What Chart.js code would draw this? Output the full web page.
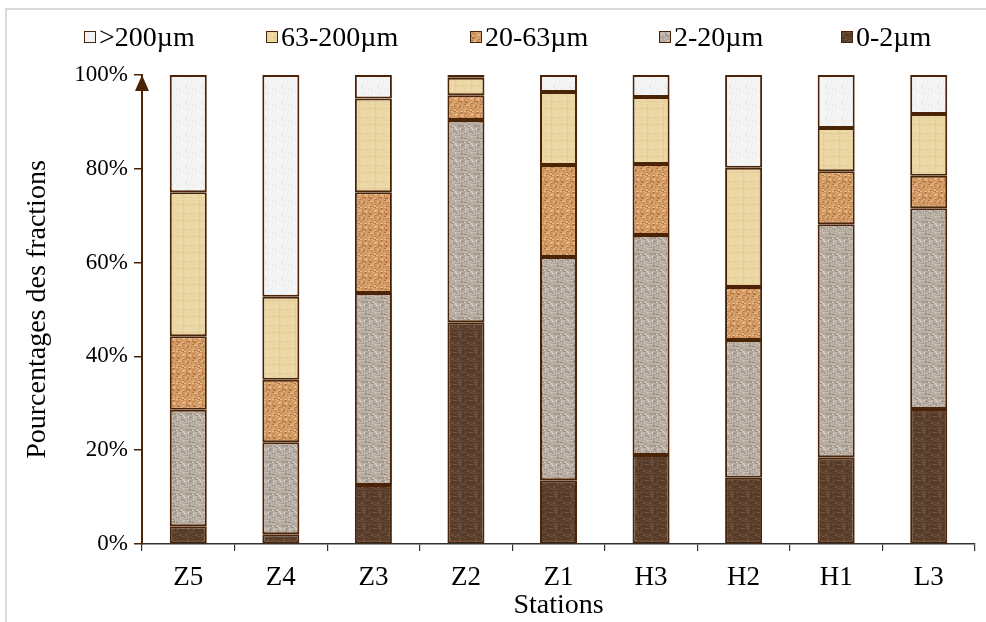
<!DOCTYPE html>
<html>
<head>
<meta charset="utf-8">
<script src="https://cdn.jsdelivr.net/npm/chart.js@4.4.1/dist/chart.umd.min.js"></script>
<style>
  html, body { margin: 0; padding: 0; background: #fff; }
  #wrap { position: relative; width: 986px; height: 622px; }
  #legend { position: absolute; left: 0; top: 0; width: 986px; height: 70px;
            font-family: "Liberation Serif", serif; font-size: 28px; color: #000; }
  .item { position: absolute; top: 22px; height: 30px; display: flex; align-items: center; white-space: nowrap; }
  .box { width: 10px; height: 10px; border: 1.5px solid #4b2408; margin-right: 3px; background-size: 16px 16px; }
</style>
</head>
<body>
<div id="wrap">
  <canvas id="grainChart" width="986" height="622"></canvas>
  <div id="legend"></div>
</div>
<script>
// stations (abscisse)
const stations = ['Z5', 'Z4', 'Z3', 'Z2', 'Z1', 'H3', 'H2', 'H1', 'L3'];

// pourcentages de chaque fraction
const frac0_2 = [3.8, 2.1, 12.6, 47.3, 13.6, 19.0, 14.1, 18.5, 28.8];
const frac2_20 = [24.8, 19.6, 40.9, 43.1, 47.6, 46.9, 29.4, 49.7, 42.8];
const frac20_63 = [15.7, 13.3, 21.5, 5.3, 19.6, 15.1, 11.3, 11.3, 6.9];
const frac63_200 = [30.7, 17.7, 20.0, 3.7, 15.6, 14.3, 25.4, 9.2, 13.2];
const frac200 = [25.0, 47.3, 5.0, 0.6, 3.6, 4.7, 19.8, 11.3, 8.3];

const yTicks = [0, 20, 40, 60, 80, 100];

// petites textures façon Excel
function lcg(seed) {
    let s = seed;
    return function () {
        s = (s * 1664525 + 1013904223) % 4294967296;
        return s / 4294967296;
    };
}

function makeTile(base, dark, light, amount, seed, lines) {
    const c = document.createElement('canvas');
    c.width = 16; c.height = 16;
    const g = c.getContext('2d');
    g.fillStyle = base;
    g.fillRect(0, 0, 16, 16);
    const rnd = lcg(seed);
    for (let i = 0; i < amount; i++) {
        const x = Math.floor(rnd() * 16), y = Math.floor(rnd() * 16);
        g.fillStyle = rnd() < 0.5 ? dark : light;
        g.fillRect(x, y, rnd() < 0.5 ? 1 : 2, 1);
    }
    if (lines) {
        g.fillStyle = lines;
        g.fillRect(0, 5, 16, 1);
        g.fillRect(0, 12, 16, 1);
        g.fillRect(7, 0, 1, 16);
    }
    return c;
}

const tiles = {
    f200: makeTile('#f3f3f3', '#e6e6e6', '#fbfbfb', 30, 11),
    f63: makeTile('#ecd8a4', '#e4cd96', '#f1e1b4', 16, 23, 'rgba(205,180,125,0.25)'),
    f20: makeTile('#d39a63', '#b07445', '#e8bb8a', 70, 37),
    f2: makeTile('#b7ada3', '#978b80', '#d3cbc3', 70, 51),
    f0: makeTile('#5d412f', '#4a3222', '#735440', 60, 71)
};

const pctx = document.getElementById('grainChart').getContext('2d');
const pat = {};
for (const k in tiles) pat[k] = pctx.createPattern(tiles[k], 'repeat');

const edge = '#4b2408';

const seriesList = [
    { label: '0-2µm', data: frac0_2, fill: pat.f0, tile: tiles.f0 },
    { label: '2-20µm', data: frac2_20, fill: pat.f2, tile: tiles.f2 },
    { label: '20-63µm', data: frac20_63, fill: pat.f20, tile: tiles.f20 },
    { label: '63-200µm', data: frac63_200, fill: pat.f63, tile: tiles.f63 },
    { label: '>200µm', data: frac200, fill: pat.f200, tile: tiles.f200 }
];

// légende html (ordre inverse)
const legendBox = document.getElementById('legend');
const legendLeft = [84, 266, 470, 659, 841];
seriesList.slice().reverse().forEach(function (s, i) {
    const item = document.createElement('div');
    item.className = 'item';
    item.style.left = legendLeft[i] + 'px';
    const b = document.createElement('span');
    b.className = 'box';
    b.style.backgroundImage = 'url(' + s.tile.toDataURL() + ')';
    const t = document.createElement('span');
    t.textContent = s.label;
    item.appendChild(b);
    item.appendChild(t);
    legendBox.appendChild(item);
});

const framePlugin = {
    id: 'frame',
    beforeDraw(chart) {
        const c = chart.ctx;
        c.save();
        c.fillStyle = '#fff';
        c.fillRect(0, 0, chart.width, chart.height);
        c.strokeStyle = '#d9d9d9';
        c.lineWidth = 2;
        c.strokeRect(6, 9, 990, 620);
        c.restore();
    },
    afterDraw(chart) {
        const a = chart.chartArea;
        const c = chart.ctx;
        c.save();
        c.fillStyle = edge;
        c.beginPath();
        c.moveTo(a.left, a.top);
        c.lineTo(a.left - 7, a.top + 16);
        c.lineTo(a.left + 7, a.top + 16);
        c.closePath();
        c.fill();
        c.restore();
    }
};

const serif = 'Liberation Serif';

new Chart(pctx, {
    type: 'bar',
    data: {
        labels: stations,
        datasets: seriesList.map(function (s) {
            return {
                label: s.label,
                data: s.data,
                backgroundColor: s.fill,
                borderColor: edge,
                borderWidth: 2,
                borderSkipped: false,
                categoryPercentage: 1,
                barPercentage: 0.4
            };
        })
    },
    options: {
        responsive: false,
        animation: false,
        layout: { padding: { top: 75, right: 11, left: 0, bottom: 0 } },
        plugins: {
            legend: { display: false },
            tooltip: { enabled: false }
        },
        scales: {
            x: {
                stacked: true,
                grid: { display: true, drawOnChartArea: false, offset: true, tickLength: 7, color: '#333', lineWidth: 1.2 },
                border: { color: '#333', width: 1.5 },
                ticks: { color: '#000', font: { family: serif, size: 27 }, padding: 11 },
                title: { display: true, text: 'Stations', color: '#000', font: { family: serif, size: 28 }, padding: { top: 0, bottom: 0 } },
                afterFit: function (s) { s.height = 78; }
            },
            y: {
                stacked: true,
                min: 0,
                max: 100,
                afterBuildTicks: function (s) { s.ticks = yTicks.map(function (v) { return { value: v }; }); },
                grid: { drawOnChartArea: false, tickLength: 8, color: edge, lineWidth: 1.5 },
                border: { color: edge, width: 2 },
                ticks: { color: '#000', font: { family: serif, size: 23 }, padding: 6, callback: function (v) { return v + '%'; } },
                title: { display: true, text: 'Pourcentages des fractions', color: '#000', font: { family: serif, size: 28 }, padding: { top: 21, bottom: 0 } },
                afterFit: function (s) { s.width = 142; }
            }
        }
    },
    plugins: [framePlugin]
});
</script>
</body>
</html>
